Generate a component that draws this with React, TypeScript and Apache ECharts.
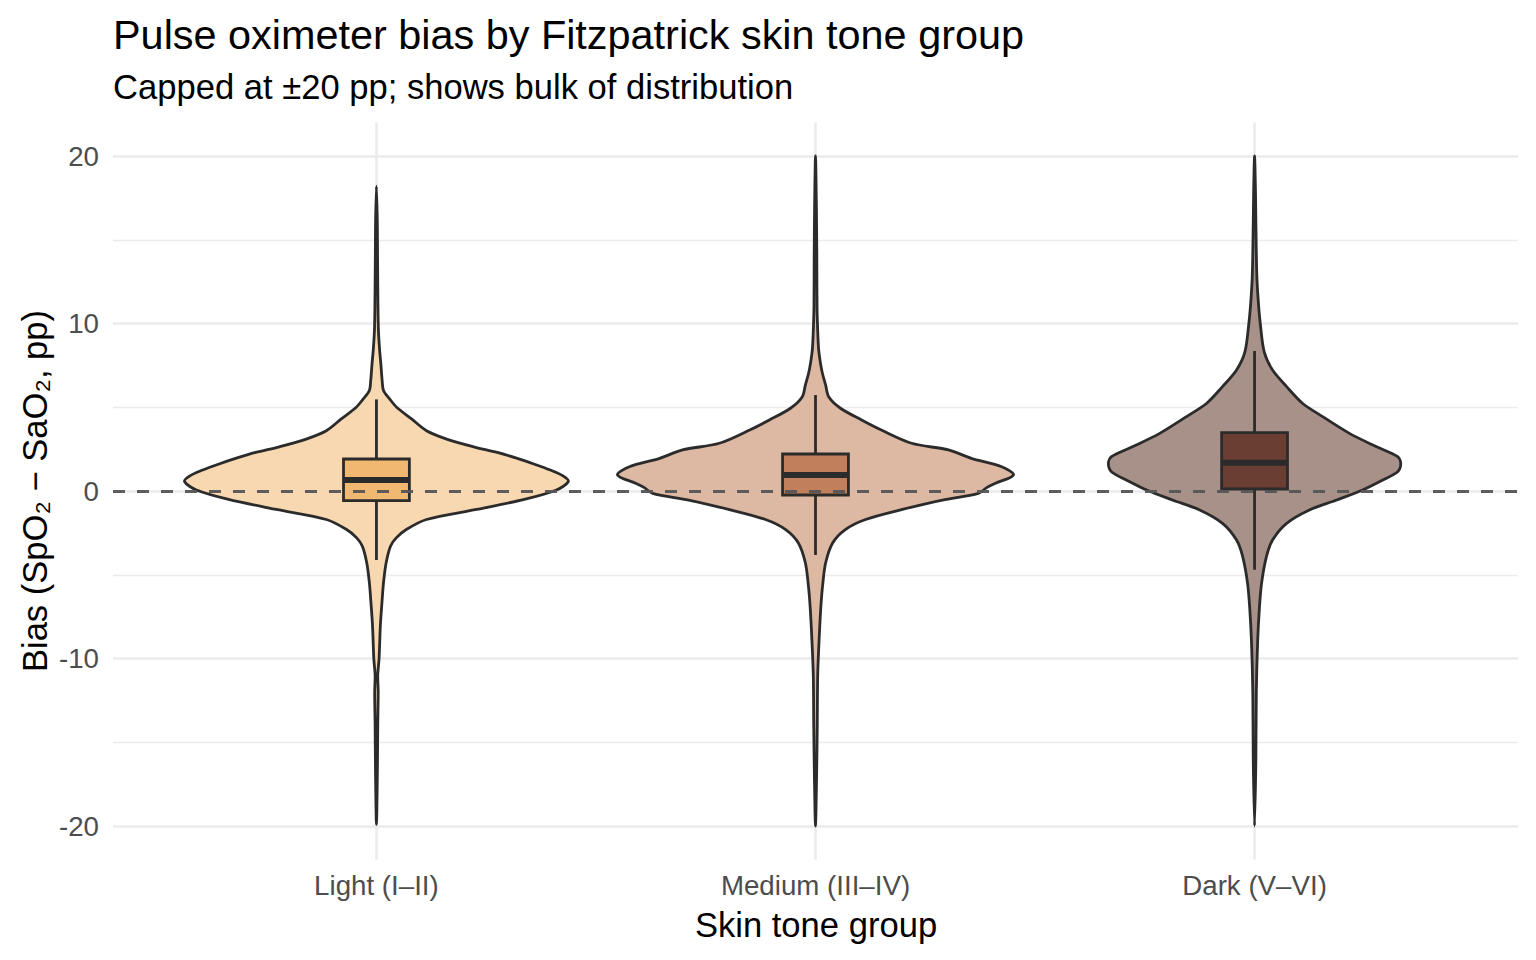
import { useEffect, useRef } from 'react';
import * as echarts from 'echarts';

// skin tone groups (x positions 1, 2, 3)
const groups = ['Light (I–II)', 'Medium (III–IV)', 'Dark (V–VI)'];

// boxplot stats per group (pp)
const whiskerLow = [-4.12, -3.82, -4.7];
const q1 = [-0.58, -0.24, 0.12];
const median = [0.66, 0.96, 1.69];
const q3 = [1.91, 2.21, 3.48];
const whiskerHigh = [5.47, 5.73, 8.36];

// violin outlines: [bias, half width in x units]
const lightViolin = [
    [-19.9, 0], [-17, 0.002], [-14, 0.003], [-12, 0.004], [-11, 0.003], [-10, 0.006],
    [-8, 0.009], [-6.5, 0.013], [-5.5, 0.016], [-4.3, 0.022], [-3.3, 0.032], [-2.8, 0.045],
    [-2.3, 0.068], [-1.7, 0.114], [-1.1, 0.228], [-0.5, 0.337], [0.06, 0.41], [0.56, 0.437],
    [0.9, 0.425], [1.25, 0.396], [1.6, 0.36], [1.96, 0.319], [2.3, 0.275], [2.64, 0.221],
    [3.1, 0.16], [3.6, 0.114], [4.3, 0.08], [5.0, 0.046], [5.5, 0.03], [6.0, 0.016],
    [6.6, 0.013], [7.6, 0.01], [8.5, 0.007], [9.6, 0.0045], [11, 0.0035], [14, 0.0025],
    [16, 0.002], [18.2, 0]
];
const mediumViolin = [
    [-20, 0], [-17, 0.0025], [-14, 0.004], [-11, 0.005], [-9, 0.008], [-7, 0.012],
    [-5.7, 0.016], [-4.3, 0.023], [-3.1, 0.039], [-2.3, 0.068], [-1.7, 0.114], [-1.1, 0.198],
    [-0.54, 0.289], [-0.14, 0.371], [0.2, 0.39], [0.46, 0.41], [0.96, 0.451], [1.45, 0.424],
    [1.95, 0.355], [2.45, 0.303], [2.85, 0.219], [3.64, 0.15], [4.24, 0.105], [4.94, 0.057],
    [5.63, 0.03], [6.33, 0.023], [7.0, 0.016], [7.62, 0.0114], [8.5, 0.007], [9.6, 0.005],
    [11, 0.0035], [14, 0.003], [17, 0.002], [20, 0]
];
const darkViolin = [
    [-20, 0], [-16, 0.003], [-12, 0.004], [-9, 0.007], [-7, 0.011], [-5.5, 0.016],
    [-3.92, 0.027], [-2.93, 0.041], [-1.93, 0.073], [-1.13, 0.125], [-0.54, 0.187], [0.06, 0.246],
    [0.66, 0.292], [1.15, 0.326], [1.65, 0.333], [2.05, 0.326], [2.64, 0.278], [3.44, 0.216],
    [4.44, 0.155], [5.24, 0.109], [6.23, 0.073], [7.22, 0.041], [8.3, 0.022], [10, 0.013],
    [11.5, 0.008], [13, 0.005], [16, 0.003], [18, 0.002], [20, 0]
];
const violins = [lightViolin, mediumViolin, darkViolin];

const violinFill = ['#F8D8B0', '#DDB8A2', '#A89189'];
const boxFill = ['#F1B872', '#C17F5C', '#6A3E33'];

// y axis ticks
const majorTicks = [-20, -10, 0, 10, 20];
const minorTicks = [-15, -5, 5, 15];

const FONT = '"Liberation Sans", Arial, Helvetica, sans-serif';
const OUTLINE = '#2B2B2B';
const BOX_HALF = 0.075;

export default function App() {
    const chartRef = useRef<HTMLDivElement>(null);

    useEffect(() => {
        if (!chartRef.current) return;
        const chart = echarts.init(chartRef.current, null, { renderer: 'svg' });
        const groupData = groups.map((_, i) => [i + 1, i]);

        const option = {
            animation: false,
            backgroundColor: '#ffffff',
            grid: { left: 113, top: 122.5, width: 1405, height: 737, containLabel: false },
            xAxis: {
                type: 'value',
                min: 0.4,
                max: 3.6,
                axisLine: { show: false },
                axisTick: { show: false },
                splitLine: { show: false },
                axisLabel: {
                    customValues: [1, 2, 3],
                    formatter: (v: number) => groups[Math.round(v) - 1] ?? '',
                    fontFamily: FONT,
                    fontSize: 27.7,
                    color: '#4D4D4D',
                    margin: 12
                }
            },
            yAxis: {
                type: 'value',
                min: -22,
                max: 22,
                axisLine: { show: false },
                axisTick: { show: false },
                splitLine: { show: false },
                axisLabel: {
                    customValues: majorTicks,
                    fontFamily: FONT,
                    fontSize: 27.7,
                    color: '#4D4D4D',
                    margin: 14
                }
            },
            graphic: [
                {
                    type: 'text',
                    x: 113,
                    y: 35,
                    style: {
                        text: 'Pulse oximeter bias by Fitzpatrick skin tone group',
                        font: `41.4px ${FONT}`,
                        fill: '#000000',
                        textAlign: 'left',
                        textVerticalAlign: 'middle'
                    }
                },
                {
                    type: 'text',
                    x: 113,
                    y: 87,
                    style: {
                        text: 'Capped at ±20 pp; shows bulk of distribution',
                        font: `34.6px ${FONT}`,
                        fill: '#000000',
                        textAlign: 'left',
                        textVerticalAlign: 'middle'
                    }
                },
                {
                    type: 'text',
                    x: 816,
                    y: 925,
                    style: {
                        text: 'Skin tone group',
                        font: `34.6px ${FONT}`,
                        fill: '#000000',
                        textAlign: 'center',
                        textVerticalAlign: 'middle'
                    }
                },
                {
                    type: 'text',
                    x: 35,
                    y: 491,
                    rotation: Math.PI / 2,
                    style: {
                        text: 'Bias (SpO₂ − SaO₂, pp)',
                        font: `34.6px ${FONT}`,
                        fill: '#000000',
                        textAlign: 'center',
                        textVerticalAlign: 'middle'
                    }
                }
            ],
            series: [
                {
                    // grid lines
                    type: 'line',
                    data: [],
                    z: 1,
                    markLine: {
                        z: 1,
                        silent: true,
                        symbol: 'none',
                        label: { show: false },
                        animation: false,
                        data: [
                            ...minorTicks.map((v) => ({ yAxis: v, lineStyle: { color: '#EBEBEB', width: 1.3, type: 'solid' } })),
                            ...majorTicks.map((v) => ({ yAxis: v, lineStyle: { color: '#EBEBEB', width: 2.6, type: 'solid' } })),
                            ...groups.map((_, i) => ({ xAxis: i + 1, lineStyle: { color: '#EBEBEB', width: 2.6, type: 'solid' } }))
                        ]
                    }
                },
                {
                    // violins
                    type: 'custom',
                    z: 3,
                    data: groupData,
                    renderItem: (params: any, api: any) => {
                        const xc = api.value(0);
                        const gi = api.value(1);
                        const prof = violins[gi];
                        const right = prof.map(([y, w]) => api.coord([xc + w, y]));
                        const left = prof.slice(1, -1).reverse().map(([y, w]) => api.coord([xc - w, y]));
                        return {
                            type: 'polygon',
                            shape: { points: right.concat(left), smooth: 0.3 },
                            style: {
                                fill: violinFill[gi],
                                stroke: OUTLINE,
                                lineWidth: 2.8,
                                lineJoin: 'round'
                            }
                        };
                    }
                },
                {
                    // boxplots
                    type: 'custom',
                    z: 4,
                    data: groupData,
                    renderItem: (params: any, api: any) => {
                        const xc = api.value(0);
                        const gi = api.value(1);
                        const top = api.coord([xc - BOX_HALF, q3[gi]]);
                        const bottom = api.coord([xc + BOX_HALF, q1[gi]]);
                        const hi = api.coord([xc, whiskerHigh[gi]]);
                        const lo = api.coord([xc, whiskerLow[gi]]);
                        const q3c = api.coord([xc, q3[gi]]);
                        const q1c = api.coord([xc, q1[gi]]);
                        const medL = api.coord([xc - BOX_HALF, median[gi]]);
                        const medR = api.coord([xc + BOX_HALF, median[gi]]);
                        const lineStyle = { stroke: OUTLINE, lineWidth: 2.8 };
                        return {
                            type: 'group',
                            children: [
                                { type: 'line', shape: { x1: hi[0], y1: hi[1], x2: q3c[0], y2: q3c[1] }, style: lineStyle },
                                { type: 'line', shape: { x1: lo[0], y1: lo[1], x2: q1c[0], y2: q1c[1] }, style: lineStyle },
                                {
                                    type: 'rect',
                                    shape: { x: top[0], y: top[1], width: bottom[0] - top[0], height: bottom[1] - top[1] },
                                    style: { fill: boxFill[gi], stroke: OUTLINE, lineWidth: 2.8 }
                                },
                                {
                                    type: 'line',
                                    shape: { x1: medL[0], y1: medL[1], x2: medR[0], y2: medR[1] },
                                    style: { stroke: OUTLINE, lineWidth: 6 }
                                }
                            ]
                        };
                    }
                },
                {
                    // zero reference line
                    type: 'line',
                    data: [],
                    z: 6,
                    markLine: {
                        z: 6,
                        silent: true,
                        symbol: 'none',
                        label: { show: false },
                        animation: false,
                        data: [{ yAxis: 0 }],
                        lineStyle: { color: '#555555', width: 2.8, type: [12, 12], opacity: 0.95 }
                    }
                }
            ]
        };

        chart.setOption(option);
        return () => chart.dispose();
    }, []);

    return (
        <div
            ref={chartRef}
            style={{ position: 'absolute', left: 0, top: 0, width: '1536px', height: '960px' }}
        ></div>
    );
}
